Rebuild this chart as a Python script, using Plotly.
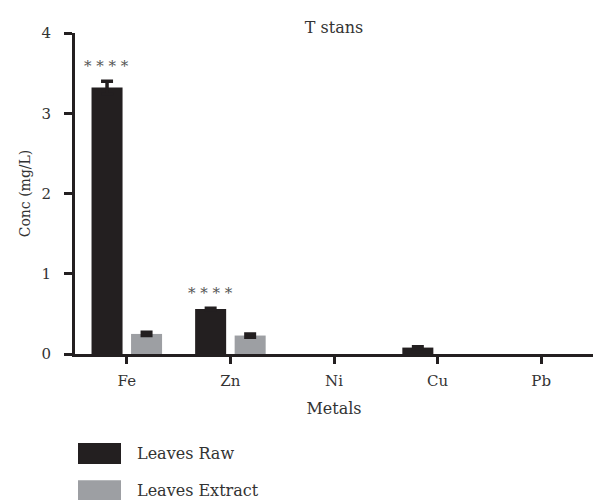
import plotly.graph_objects as go

metals = ["Fe", "Zn", "Ni", "Cu", "Pb"]
raw_vals = [3.32, 0.56, 0.0, 0.08, 0.0]
raw_err = [0.08, 0.01, 0.0, 0.01, 0.0]
ext_vals = [0.25, 0.23, 0.0, 0.0, 0.0]
ext_err = [0.02, 0.02, 0.0, 0.0, 0.0]
series_names = ["Leaves Raw", "Leaves Extract"]
sig_labels = ["* * * *", "* * * *", "", "", ""]
y_ticks = [0, 1, 2, 3, 4]

FONT = "DejaVu Serif"
DARK = "#231f20"
GREY = "#9d9fa3"
TXT = "#333333"


def bar_or_none(vals):
    # zero-height bars are not drawn (and carry no error bar)
    return [v if v > 0 else None for v in vals]


fig = go.Figure()
fig.add_trace(go.Bar(
    x=metals, y=bar_or_none(raw_vals), name=series_names[0], marker_color=DARK,
    marker_line_width=0,
    error_y=dict(type="data", array=raw_err, color=DARK, thickness=3.5, width=6),
    showlegend=False))
fig.add_trace(go.Bar(
    x=metals, y=bar_or_none(ext_vals), name=series_names[1], marker_color=GREY,
    marker_line_width=0,
    error_y=dict(type="data", array=ext_err, color=DARK, thickness=3.5, width=6),
    showlegend=False))

for m, v, e, s in zip(metals, raw_vals, raw_err, sig_labels):
    if s:
        fig.add_annotation(x=m, y=v + e, text=s, showarrow=False, xshift=-20,
                           yshift=15, yanchor="middle",
                           font=dict(family=FONT, size=15, color="#555555"))

# custom legend with large swatches
leg_y = [(-0.277, -0.343), (-0.393, -0.455)]
for (y1, y0), name, col in zip(leg_y, series_names, [DARK, GREY]):
    fig.add_shape(type="rect", xref="paper", yref="paper", x0=0.0058, x1=0.0888,
                  y0=y0, y1=y1, fillcolor=col, line_width=0)
    fig.add_annotation(xref="paper", yref="paper", x=0.1158, y=(y0 + y1) / 2,
                       text=name, showarrow=False, xanchor="left", yanchor="middle",
                       font=dict(family=FONT, size=16, color=TXT))

fig.update_layout(
    width=594, height=500,
    margin=dict(l=75, r=1, t=33, b=146),
    paper_bgcolor="white", plot_bgcolor="white",
    font=dict(family=FONT, size=15, color=TXT),
    barmode="group", bargap=0.237, bargroupgap=0.215,
    title=dict(text="T stans", x=0.5, xref="paper", y=1 - 27 / 500, yanchor="middle",
               font=dict(family=FONT, size=16, color=TXT)),
)
fig.update_xaxes(
    range=[-0.5, 4.5], showline=True, linecolor=DARK, linewidth=3,
    ticks="outside", ticklen=7, tickwidth=3, tickcolor=DARK,
    showgrid=False, zeroline=False, ticklabelstandoff=4,
    title=dict(text="Metals", standoff=14, font=dict(family=FONT, size=16, color=TXT)),
    tickfont=dict(family=FONT, size=15, color=TXT),
)
fig.update_yaxes(
    range=[0, 4], tickvals=y_ticks, showline=True, linecolor=DARK, linewidth=3,
    ticks="outside", ticklen=8, tickwidth=3, tickcolor=DARK,
    showgrid=False, zeroline=False, ticklabelstandoff=10,
    title=dict(text="Conc (mg/L)", standoff=8, font=dict(family=FONT, size=14, color=TXT)),
    tickfont=dict(family=FONT, size=15, color=TXT),
)

fig.write_html("out.html", config={"displayModeBar": False},
               post_script="document.body.style.margin='0px';")
